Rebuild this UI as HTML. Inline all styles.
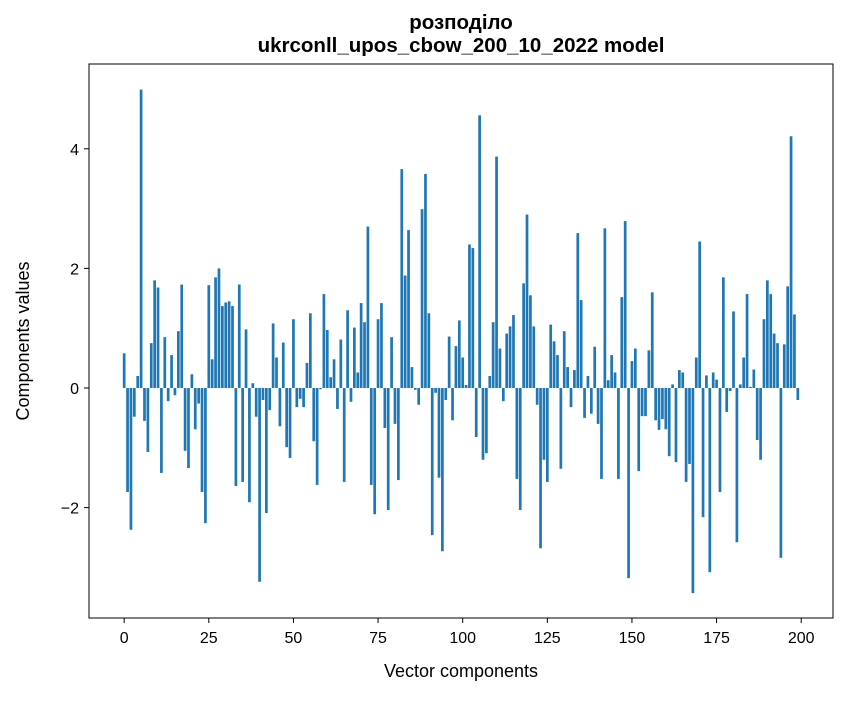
<!DOCTYPE html>
<html><head><meta charset="utf-8"><style>
body{margin:0;background:#fff;}
text{font-family:"Liberation Sans","DejaVu Sans",sans-serif;}
</style></head><body>
<svg id="chart" width="847" height="696" xmlns="http://www.w3.org/2000/svg">
<rect width="847" height="696" fill="#fff"/>
<text x="461" y="29" text-anchor="middle" font-size="20.5" font-weight="bold">розподіло</text>
<text x="461" y="52" text-anchor="middle" font-size="20.5" font-weight="bold">ukrconll_upos_cbow_200_10_2022 model</text>
<g id="bars"></g>
<rect x="89" y="64" width="744" height="554" fill="none" stroke="#000" stroke-width="1"/>
<g id="xticks"></g>
<g id="yticks"></g>
<text x="461" y="677" text-anchor="middle" font-size="18">Vector components</text>
<text transform="translate(29,341) rotate(-90)" text-anchor="middle" font-size="18">Components values</text>
</svg>
<script>
const values = [0.58,-1.74,-2.37,-0.48,0.2,4.99,-0.55,-1.07,0.75,1.8,1.68,-1.42,0.85,-0.22,0.55,-0.12,0.95,1.73,-1.05,-1.34,0.23,-0.69,-0.26,-1.74,-2.26,
1.72,0.48,1.85,2.0,1.37,1.43,1.45,1.37,-1.64,1.73,-1.57,0.98,-1.91,0.08,-0.48,-3.24,-0.2,-2.09,-0.37,1.08,0.51,-0.64,0.76,-0.99,-1.17,
1.15,-0.32,-0.18,-0.32,0.42,1.25,-0.89,-1.62,-0.02,1.57,0.97,0.18,0.48,-0.35,0.81,-1.57,1.3,-0.23,1.01,0.26,1.42,1.1,2.7,-1.62,-2.11,
1.15,1.42,-0.67,-2.04,0.85,-0.6,-1.54,3.66,1.88,2.64,0.35,-0.03,-0.28,2.99,3.58,1.25,-2.46,-0.08,-1.5,-2.73,-0.2,0.86,-0.54,0.7,1.13,
0.51,0.05,2.4,2.34,-0.82,4.56,-1.2,-1.09,0.2,1.1,3.87,0.66,-0.22,0.91,1.03,1.22,-1.52,-2.04,1.75,2.9,1.55,1.03,-0.28,-2.68,-1.2,
-1.57,1.06,0.78,0.55,-1.35,0.95,0.35,-0.32,0.3,2.59,1.47,-0.5,0.2,-0.43,0.69,-0.6,-1.52,2.67,0.13,0.55,0.26,-1.52,1.52,2.79,-3.18,
0.45,0.66,-1.39,-0.47,-0.47,0.63,1.6,-0.54,-0.7,-0.52,-0.69,-1.14,0.06,-1.24,0.3,0.26,-1.57,-1.27,-3.43,0.51,2.45,-2.16,0.21,-3.08,0.26,
0.14,-1.74,1.85,-0.4,-0.05,1.28,-2.58,0.06,0.51,1.57,0.02,0.31,-0.87,-1.2,1.15,1.8,1.57,0.91,0.75,-2.84,0.73,1.7,4.21,1.23,-0.2];
const xTickValues = [0,25,50,75,100,125,150,175,200];
const yTickValues = [-2,0,2,4];

const NS = "http://www.w3.org/2000/svg";
const X0 = 89, X1 = 833, XMIN = -10.39, XMAX = 209.39;
const Y_ZERO = 388, Y_SCALE = 59.8;
function xScale(v){ return X0 + (v - XMIN) * (X1 - X0) / (XMAX - XMIN); }
function yScale(v){ return Y_ZERO - v * Y_SCALE; }
const bw = 0.8 * (X1 - X0) / (XMAX - XMIN);

const bars = document.getElementById('bars');
values.forEach((v, i) => {
  const r = document.createElementNS(NS, 'rect');
  const y0 = yScale(0), y1 = yScale(v);
  r.setAttribute('x', xScale(i) - bw / 2);
  r.setAttribute('y', Math.min(y0, y1));
  r.setAttribute('width', bw);
  r.setAttribute('height', Math.abs(y1 - y0));
  r.setAttribute('fill', '#1f77b4');
  
  
  bars.appendChild(r);
});

const xg = document.getElementById('xticks');
xTickValues.forEach(t => {
  const x = xScale(t);
  const l = document.createElementNS(NS, 'line');
  l.setAttribute('x1', x); l.setAttribute('x2', x);
  l.setAttribute('y1', 618); l.setAttribute('y2', 623);
  l.setAttribute('stroke', '#000');
  
  
  xg.appendChild(l);
  const tx = document.createElementNS(NS, 'text');
  tx.setAttribute('x', x); tx.setAttribute('y', 643);
  tx.setAttribute('text-anchor', 'middle'); tx.setAttribute('font-size', '16');
  tx.textContent = String(t);
  
  
  xg.appendChild(tx);
});

const yg = document.getElementById('yticks');
yTickValues.forEach(t => {
  const y = yScale(t);
  const l = document.createElementNS(NS, 'line');
  l.setAttribute('x1', 84); l.setAttribute('x2', 89);
  l.setAttribute('y1', y); l.setAttribute('y2', y);
  l.setAttribute('stroke', '#000');
  
  
  yg.appendChild(l);
  const tx = document.createElementNS(NS, 'text');
  tx.setAttribute('x', 79); tx.setAttribute('y', y + 6);
  tx.setAttribute('text-anchor', 'end'); tx.setAttribute('font-size', '16');
  tx.textContent = t < 0 ? '\u2212' + Math.abs(t) : String(t);
  
  
  yg.appendChild(tx);
});
</script>
</body></html>
